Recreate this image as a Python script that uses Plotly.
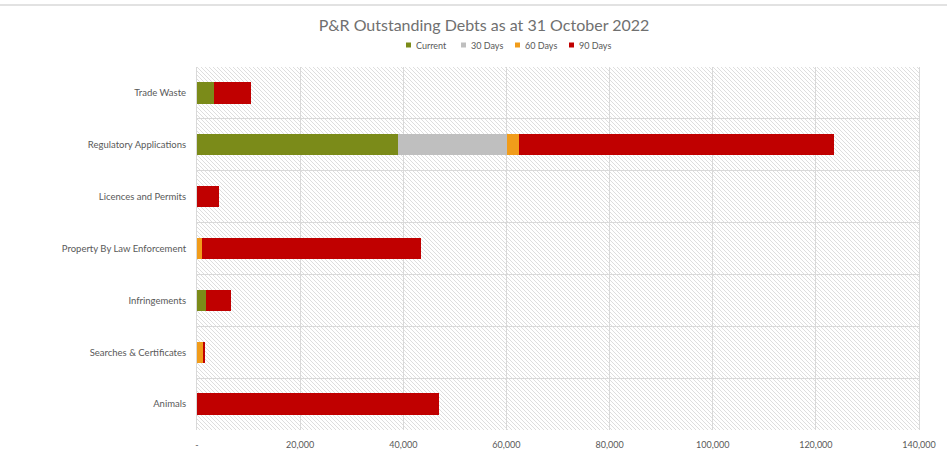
import base64
import plotly.graph_objects as go

# Outstanding debts by area (top-to-bottom order as displayed)
categories = [
    "Trade Waste",
    "Regulatory Applications",
    "Licences and Permits",
    "Property By Law Enforcement",
    "Infringements",
    "Searches & Certificates",
    "Animals",
]
current = [3350, 39070, 0, 0, 1740, 0, 0]
days_30 = [0, 21130, 0, 0, 0, 0, 0]
days_60 = [0, 2260, 0, 1030, 0, 1280, 0]
days_90 = [7170, 61050, 4260, 42500, 4850, 330, 46960]

x_ticks = [0, 20000, 40000, 60000, 80000, 100000, 120000, 140000]
x_labels = ["-" if v == 0 else f"{v:,}" for v in x_ticks]

series_names = ["Current", "30 Days", "60 Days", "90 Days"]
series_values = [current, days_30, days_60, days_90]
series_colors = ["#7B8B19", "#BFBFBF", "#F19C1A", "#C00000"]

W, H = 947, 470
ML, MR, MT, MB = 197, 28, 67, 40
PW, PH = W - ML - MR, H - MT - MB


def px_x(p):
    """Pixel column -> paper x."""
    return (p - ML) / PW


def px_y(p):
    """Pixel row (from top) -> paper y."""
    return (H - MB - p) / PH


fig = go.Figure()
for name, vals, color in zip(series_names, series_values, series_colors):
    fig.add_trace(go.Bar(
        y=categories, x=vals, name=name, orientation="h",
        marker=dict(color=color, line=dict(width=0)),
        showlegend=False,
    ))

# Diagonal hatch fill for the plotting area
svg = f"""<svg xmlns='http://www.w3.org/2000/svg' width='{PW}' height='{PH}'>
<defs><pattern id='h' width='4' height='4' patternUnits='userSpaceOnUse'>
<path d='M-1,-1 L5,5 M-1,3 L1,5 M3,-1 L5,1' stroke='#DEDEDE' stroke-width='1'/>
</pattern></defs>
<rect width='100%' height='100%' fill='#FFFFFF'/>
<rect width='100%' height='100%' fill='url(#h)'/>
</svg>"""
hatch = "data:image/svg+xml;base64," + base64.b64encode(svg.encode()).decode()

fig.add_layout_image(dict(
    source=hatch, xref="paper", yref="paper", x=0, y=1,
    sizex=1, sizey=1, xanchor="left", yanchor="top",
    sizing="stretch", layer="below",
))

# Outer chart border line along the top
fig.add_shape(type="line", xref="paper", yref="paper",
              x0=px_x(0), x1=px_x(W), y0=px_y(5), y1=px_y(5),
              line=dict(color="#D9D9D9", width=1.5))

font_family = "Lato, 'Open Sans', sans-serif"

# Compact legend: small colour squares followed by the series names
legend_left = [406, 461, 515, 569]
legend_row = 45
for name, color, left in zip(series_names, series_colors, legend_left):
    fig.add_shape(type="rect", xref="paper", yref="paper",
                  x0=px_x(left), x1=px_x(left + 5),
                  y0=px_y(legend_row + 2.5), y1=px_y(legend_row - 2.5),
                  fillcolor=color, line=dict(width=0))
    fig.add_annotation(text=name, xref="paper", yref="paper",
                       x=px_x(left + 8), y=px_y(legend_row),
                       xanchor="left", yanchor="middle", showarrow=False,
                       font=dict(size=9, color="#595959", family=font_family))

fig.update_layout(
    width=W, height=H,
    margin=dict(l=ML, r=MR, t=MT, b=MB, autoexpand=False),
    barmode="stack",
    bargap=0.59,
    paper_bgcolor="white",
    plot_bgcolor="rgba(0,0,0,0)",
    font=dict(family=font_family, color="#595959", size=10),
    title=dict(
        text="P&R Outstanding Debts as at 31 October 2022",
        x=484 / W, xref="container", xanchor="center",
        y=1 - 25 / H, yref="container", yanchor="middle",
        font=dict(size=16, color="#707070", family=font_family),
    ),
    showlegend=False,
)

fig.update_xaxes(
    range=[0, 140000], tickvals=x_ticks, ticktext=x_labels,
    showgrid=True, gridcolor="#D9D9D9", gridwidth=1,
    zeroline=False, showline=False,
    ticklabelstandoff=8,
    tickfont=dict(size=9, color="#595959"),
    fixedrange=True,
)
fig.update_yaxes(
    type="category", categoryorder="array", categoryarray=categories,
    autorange="reversed", tickson="boundaries",
    showgrid=True, gridcolor="#D9D9D9", gridwidth=1,
    showline=True, linecolor="#D9D9D9", linewidth=1, mirror=True,
    ticks="", ticklabelstandoff=8,
    tickfont=dict(size=9.5, color="#595959"),
    fixedrange=True,
)

fig.write_html("out.html")
